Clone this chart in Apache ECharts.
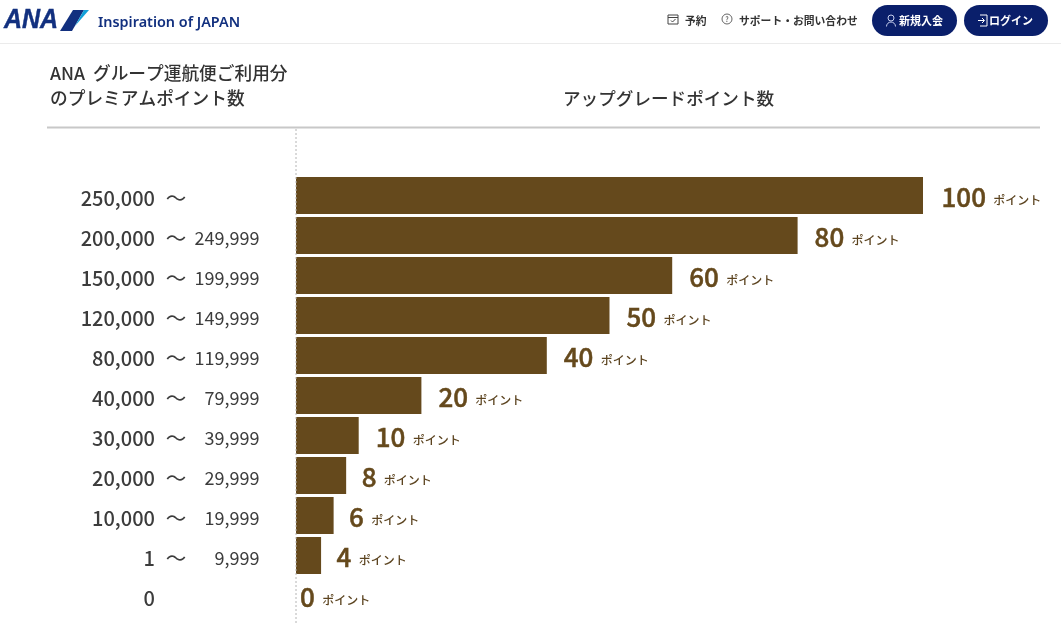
<!DOCTYPE html>
<html><head><meta charset="utf-8">
<style>html,body{margin:0;padding:0;background:#fff}#c{width:1061px;height:623px}</style>
<script src="https://cdn.jsdelivr.net/npm/echarts@6/dist/echarts.min.js"></script>
</head><body><div id="c"></div>
<script>
const rangeFrom = ['250,000','200,000','150,000','120,000','80,000','40,000','30,000','20,000','10,000','1','0'];
const rangeTo = ['','249,999','199,999','149,999','119,999','79,999','39,999','29,999','19,999','9,999',''];
const rangeMid = rangeFrom.map(f=>f==='0'?'':'～');
const points = [100,80,60,50,40,20,10,8,6,4,0];
const unit = 'ポイント';
const headTitle = ['ANA  グループ運航便ご利用分','のプレミアムポイント数'];
const headRight = 'アップグレードポイント数';
const tagline = 'Inspiration of JAPAN';
const JP = '"Noto Sans CJK JP","Noto Sans",sans-serif';
const BROWN = '#65491c', NAVY = '#0a1f6b', INK = '#333333';
const chart = echarts.init(document.getElementById('c'),null,{renderer:'canvas'});
const txt=(x,y,t,size,color,weight,extra)=>({type:'text',x,y,silent:true,style:Object.assign({text:t,fontFamily:JP,fontSize:size,fill:color,fontWeight:weight||400,textVerticalAlign:'middle'},extra||{})});
const catAxis=(data,margin,align,size,weight)=>({type:'category',gridIndex:1,position:'left',inverse:true,data,
  axisLine:{show:false},axisTick:{show:false},splitLine:{show:false},
  axisLabel:{show:true,interval:0,margin,align,fontFamily:JP,fontSize:size,fontWeight:weight,color:'#3c3c3c'}});
const stroke=(shape,type,c)=>({type,silent:true,z:10,shape,style:{fill:'none',stroke:c,lineWidth:1}});
chart.setOption({
  animation:false,
  backgroundColor:'#fff',
  grid:[{left:296,right:138,top:175.5,height:440},{left:296,right:138,top:178,height:440}],
  xAxis:[{type:'value',min:0,max:100,show:false},{type:'value',gridIndex:1,min:0,max:100,show:false}],
  yAxis:[
    {type:'category',inverse:true,data:rangeFrom,axisLine:{show:false},axisTick:{show:false},axisLabel:{show:false}},
    catAxis(rangeFrom,141,'right',20,500),catAxis(rangeMid,120,'center',20.5,400),catAxis(rangeTo,36.5,'right',18,400)],
  series:[{type:'bar',barWidth:37,
    data:points.map(v=>({value:v,label:{distance:v===0?4:(v>=100?18.5:(v>=10?17:15.5))}})),
    itemStyle:{color:BROWN},
    label:{show:true,position:'right',offset:[0,2],
      formatter:p=>`{v|${p.value}} {u|${unit}}`,
      rich:{v:{fontFamily:JP,fontSize:26,fontWeight:500,color:BROWN,textBorderColor:BROWN,textBorderWidth:0.5,padding:[0,4,0,0]},
            u:{fontFamily:JP,fontSize:12,fontWeight:500,color:'#5c4420',padding:[6,0,0,0]}}}}],
  graphic:[
    {type:'rect',silent:true,shape:{x:0,y:43,width:1061,height:1},style:{fill:'#ebebeb'}},
    {type:'rect',silent:true,shape:{x:47,y:126.5,width:993,height:2},style:{fill:'#c8c8c8'}},
    {type:'line',silent:true,z:10,shape:{x1:296,y1:129,x2:296,y2:623},style:{stroke:'#b4b4b4',lineWidth:1,lineDash:[2,2]}},
    // logo
    {type:'text',x:4,y:23.5,originX:4,originY:23.5,scaleY:1.14,silent:true,style:{text:'ANA',fontFamily:'"Liberation Sans"',fontStyle:'italic',fontWeight:700,fontSize:25,fill:'#12307f',stroke:'#12307f',lineWidth:0.4,textVerticalAlign:'middle'}},
    {type:'polygon',silent:true,shape:{points:[[60,31],[72,31],[84,10],[73,10]]},style:{fill:'#12307f'}},
    {type:'polygon',silent:true,shape:{points:[[84,10],[89,10],[75,26]]},style:{fill:'#12a0d8'}},
    txt(98,23,tagline,14.4,'#12307f',600,{fontFamily:'"Noto Sans",sans-serif'}),
    // nav
    stroke({x:668,y:15,width:10,height:9},'rect','#444'),
    stroke({x1:668,y1:17.5,x2:678,y2:17.5},'line','#444'),
    stroke({points:[[671,20.5],[672.5,22],[675.5,19]]},'polyline','#444'),
    txt(685,21,'予約',10.8,'#333',700),
    stroke({cx:727,cy:19,r:5},'circle','#666'),
    txt(727,19,'?',7,'#666',500,{textAlign:'center'}),
    txt(739,21,'サポート・お問い合わせ',10.8,'#333',700),
    {type:'rect',silent:true,shape:{x:872,y:5,width:85,height:31,r:15.5},style:{fill:NAVY}},
    {type:'rect',silent:true,shape:{x:964,y:5,width:84,height:31,r:15.5},style:{fill:NAVY}},
    stroke({cx:891,cy:18,r:3},'circle','#c8d0ee'),
    stroke({cx:891,cy:26.5,r:4.5,startAngle:Math.PI,endAngle:2*Math.PI},'arc','#c8d0ee'),
    txt(899,21,'新規入会',11,'#fff',700),
    stroke({points:[[980,15],[987,15],[987,26],[980,26]]},'polyline','#fff'),
    stroke({points:[[978,20.5],[984,20.5]]},'polyline','#fff'),
    stroke({points:[[982,18],[984.5,20.5],[982,23]]},'polyline','#fff'),
    txt(989,21,'ログイン',11,'#fff',700),
    // column heads
    txt(50,73,headTitle[0],17.7,'#333',500),
    txt(50,98,headTitle[1],17.7,'#333',500),
    txt(563,98,headRight,17.6,'#333',500)
  ]
});
</script></body></html>
